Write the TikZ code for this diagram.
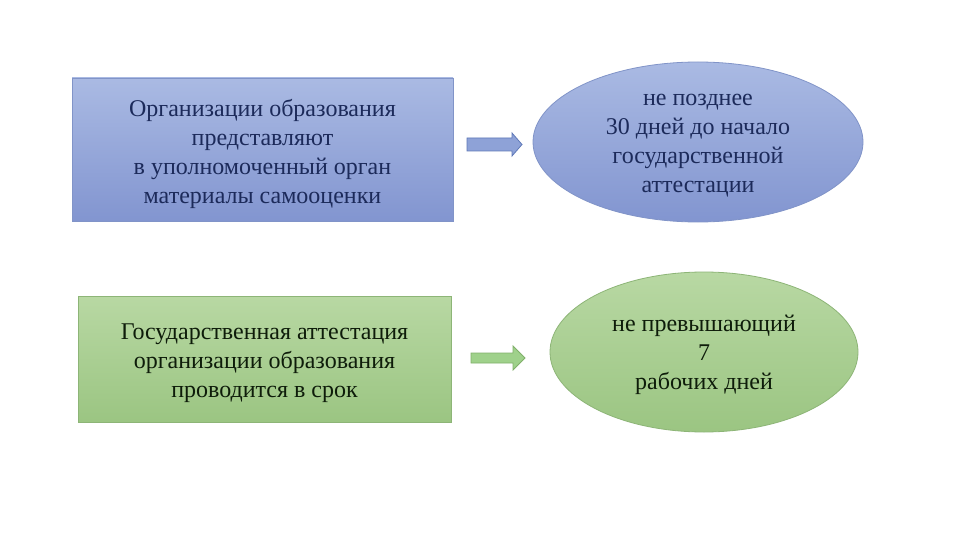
\documentclass[tikz,border=0pt]{standalone}
\usepackage{fontspec}
\setmainfont{Liberation Serif}
\usetikzlibrary{shapes.geometric}
\definecolor{bluetop}{HTML}{AABAE3}
\definecolor{bluebot}{HTML}{8295D0}
\definecolor{blueedge}{HTML}{8194C8}
\definecolor{bluetext}{HTML}{1C2A5A}
\definecolor{greentop}{HTML}{B8D8A3}
\definecolor{greenbot}{HTML}{9BC582}
\definecolor{greenedge}{HTML}{8DB577}
\definecolor{greentext}{HTML}{0E1C0A}
\definecolor{arrowblue}{HTML}{8EA2D7}
\definecolor{arrowblueedge}{HTML}{5E78B8}
\definecolor{arrowgreen}{HTML}{9FD18B}
\definecolor{arrowgreenedge}{HTML}{80B06A}
\tikzset{
  x=1pt, y=-1pt,
  txt/.style={align=center, font=\fontsize{24}{29}\selectfont, inner sep=0pt},
  bluebox/.style={draw=blueedge, line width=0.8pt, top color=bluetop, bottom color=bluebot, inner sep=0pt},
  greenbox/.style={draw=greenedge, line width=0.8pt, top color=greentop, bottom color=greenbot, inner sep=0pt},
  bluetxt/.style={txt, text=bluetext},
  greentxt/.style={txt, text=greentext},
  bluearrow/.style={draw=arrowblueedge, fill=arrowblue, line width=0.8pt, line join=miter},
  greenarrow/.style={draw=arrowgreenedge, fill=arrowgreen, line width=0.8pt, line join=miter},
}
\begin{document}
\begin{tikzpicture}
\useasboundingbox[fill=white] (0,0) rectangle (960,540);
% blue rectangle
\node[bluebox, minimum width=381pt, minimum height=143pt] (r1) at (262.5,149.5) {};
\node[bluetxt, yshift=-4pt] (t1) at (r1.center)
  {Организации образования\\представляют\\в уполномоченный орган\\материалы самооценки};
% blue ellipse
\node[bluebox, ellipse, minimum width=330pt, minimum height=160pt] (e1) at (698,142) {};
\node[bluetxt, yshift=-3.5pt] (t2) at (e1.center)
  {не позднее\\30 дней до начало\\государственной\\аттестации};
% green rectangle
\node[greenbox, minimum width=373pt, minimum height=126pt] (r2) at (264.5,359) {};
\node[greentxt, yshift=-4pt] (t3) at (r2.center)
  {Государственная аттестация\\организации образования\\проводится в срок};
% green ellipse
\node[greenbox, ellipse, minimum width=308pt, minimum height=160pt] (e2) at (704,352) {};
\node[greentxt, yshift=-3pt] (t4) at (e2.center)
  {не превышающий\\7\\рабочих дней};
% block arrows
\coordinate (a1) at (467,144.5);
\draw[bluearrow] (a1) ++(0,-6.5) -- ++(45,0) -- ++(0,-5) -- ++(10,11.5) -- ++(-10,11.5) -- ++(0,-5) -- ++(-45,0) -- cycle;
\coordinate (a2) at (471,358);
\draw[greenarrow] (a2) ++(0,-5) -- ++(42,0) -- ++(0,-7) -- ++(12,12) -- ++(-12,12) -- ++(0,-7) -- ++(-42,0) -- cycle;
\end{tikzpicture}
\end{document}
